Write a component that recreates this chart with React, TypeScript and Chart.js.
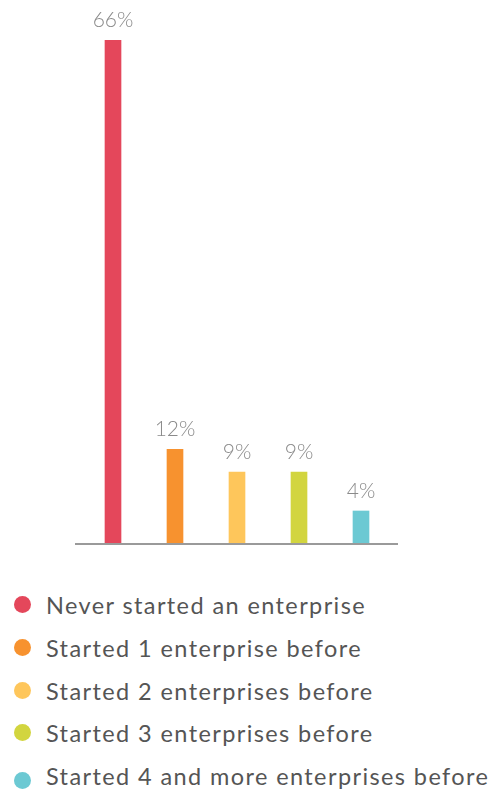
import React, { useEffect, useRef } from "react";
import { Chart, registerables } from "chart.js";

Chart.register(...registerables);

const categories = [
  "Never started an enterprise",
  "Started 1 enterprise before",
  "Started 2 enterprises before",
  "Started 3 enterprises before",
  "Started 4 and more enterprises before",
];
const shares = [66, 12.3, 9.3, 9.3, 4.2];
const shareLabels = ["66%", "12%", "9%", "9%", "4%"];
const colors = ["#E4475B", "#F7922F", "#FEC65B", "#D2D53F", "#6CC9D3"];

const valueLabels = {
  id: "valueLabels",
  afterDatasetsDraw(chart: any) {
    const { ctx } = chart;
    const meta = chart.getDatasetMeta(0);
    ctx.save();
    ctx.font = "300 21px Lato";
    ctx.fillStyle = "#8a8a8a";
    ctx.textAlign = "center";
    ctx.textBaseline = "alphabetic";
    meta.data.forEach((bar: any, i: number) => {
      ctx.fillText(shareLabels[i], bar.x, bar.y - 13);
    });
    ctx.restore();
  },
};

const baseline = {
  id: "baseline",
  afterDraw(chart: any) {
    const { ctx, chartArea } = chart;
    ctx.save();
    ctx.strokeStyle = "#9a9a9a";
    ctx.lineWidth = 2;
    ctx.beginPath();
    ctx.moveTo(chartArea.left - 7, chartArea.bottom + 1);
    ctx.lineTo(chartArea.right + 6, chartArea.bottom + 1);
    ctx.stroke();
    ctx.restore();
  },
};

export default function App() {
  const ref = useRef<HTMLCanvasElement>(null);
  useEffect(() => {
    document.body.style.margin = "0";
    const chart = new Chart(ref.current!, {
      type: "bar",
      data: {
        labels: categories,
        datasets: [
          {
            data: shares,
            backgroundColor: colors,
            barThickness: 16,
            borderWidth: 0,
          },
        ],
      },
      options: {
        animation: false,
        responsive: false,
        layout: { padding: { left: 82, right: 101, top: 40, bottom: 17 } },
        plugins: { legend: { display: false }, tooltip: { enabled: false } },
        scales: {
          x: { display: false },
          y: { display: false, min: 0, max: 66 },
        },
      },
      plugins: [valueLabels, baseline],
    });
    return () => chart.destroy();
  }, []);

  return (
    <div style={{ position: "relative", width: 493, height: 791, overflow: "hidden", fontFamily: "Lato" }}>
      <canvas ref={ref} width={493} height={560} style={{ display: "block", width: 493, height: 560 }} />
      <ul style={{ position: "absolute", top: 584, left: 0, margin: 0, padding: 0, listStyle: "none" }}>
        {categories.map((c, i) => (
          <li
            key={c}
            style={{
              position: "relative",
              height: 42.75,
              lineHeight: "43px",
              fontSize: 23.5,
              letterSpacing: "1.4px",
              color: "#555",
              paddingLeft: 46,
              whiteSpace: "nowrap",
            }}
          >
            <span
              style={{
                position: "absolute",
                left: 14,
                top: 12 + (i === 4 ? 5 : 0),
                width: 17,
                height: 17,
                borderRadius: "50%",
                background: colors[i],
              }}
            />
            {c}
          </li>
        ))}
      </ul>
    </div>
  );
}
